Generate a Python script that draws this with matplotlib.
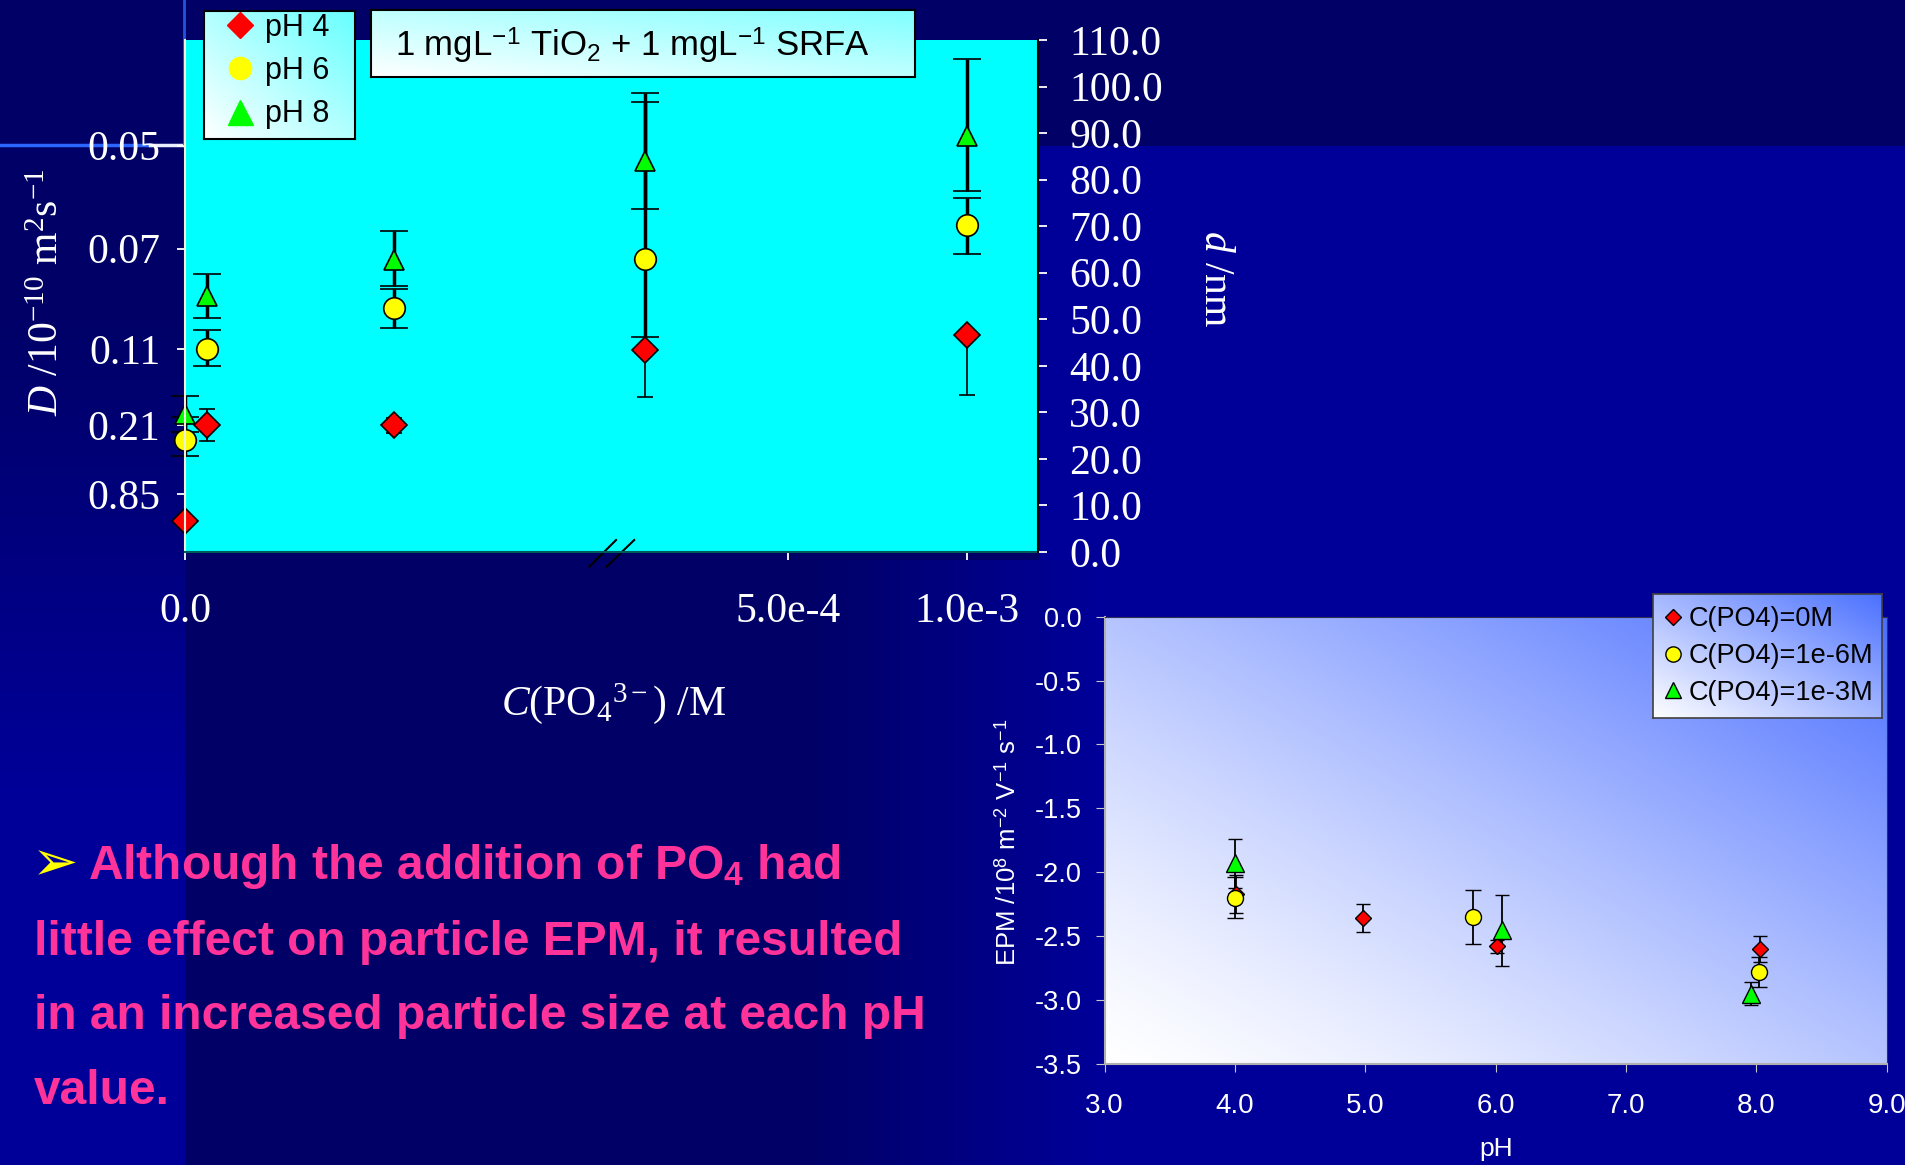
import numpy as np
import matplotlib
matplotlib.use('Agg')
import matplotlib.pyplot as plt
from matplotlib.lines import Line2D
from matplotlib.patches import Rectangle
from matplotlib.colors import to_rgb, LinearSegmentedColormap
from matplotlib.ticker import FormatStrFormatter

plt.rcParams.update({
    'font.family': ['Liberation Serif', 'DejaVu Serif'],
    'mathtext.fontset': 'custom',
    'mathtext.rm': 'Liberation Serif',
    'mathtext.it': 'Liberation Serif:italic',
    'mathtext.bf': 'Liberation Sans:bold',
    'mathtext.sf': 'Liberation Sans',
})

# ---------------- data: particle size vs phosphate ----------------
conc = [0.0, 1e-6, 1e-5, 1e-4, 1e-3]
series_top = ['pH 4', 'pH 6', 'pH 8']
d_ph4 = [6.6, 27.2, 27.2, 43.5, 46.6]
d_ph4_lo = [0.0, 3.45, 1.6, 10.3, 12.8]
d_ph4_hi = [0.0, 3.45, 1.6, 0.0, 0.0]
d_ph6 = [24.0, 43.7, 52.4, 63.0, 70.2]
d_ph6_lo = [3.4, 3.8, 4.2, 16.8, 6.2]
d_ph6_hi = [4.9, 4.0, 4.2, 33.6, 5.9]
d_ph8 = [29.7, 55.0, 62.8, 84.1, 89.4]
d_ph8_lo = [3.9, 4.8, 5.6, 10.5, 11.9]
d_ph8_hi = [3.9, 4.7, 6.1, 14.5, 16.5]
x_ticks = [0.0, 5e-4, 1e-3]
x_ticklabels = ['0.0', '5.0e-4', '1.0e-3']
D_tick_pos = [87.3, 65.2, 43.6, 27.2, 12.4]
D_ticklabels = ['0.05', '0.07', '0.11', '0.21', '0.85']
d_ticks = [0, 10, 20, 30, 40, 50, 60, 70, 80, 90, 100, 110]
# broken-axis knots (concentration -> relative position)
scale_c = [0.0, 1e-6, 1e-5, 1e-4, 1.2e-3]
scale_p = [0.0, 22.0, 208.7, 459.8, 853.0]

# ---------------- data: EPM vs pH ----------------
series_bot = ['C(PO4)=0M', 'C(PO4)=1e-6M', 'C(PO4)=1e-3M']
ph_0 = [4.01, 4.98, 6.01, 8.03]
epm_0 = [-2.17, -2.36, -2.58, -2.60]
epm_0_err = [0.15, 0.11, 0.05, 0.10]
ph_6 = [4.00, 5.83, 8.02]
epm_6 = [-2.20, -2.35, -2.78]
epm_6_err = [0.16, 0.21, 0.12]
ph_3 = [4.00, 6.045, 7.96]
epm_3 = [-1.93, -2.455, -2.95]
epm_3_err = [0.19, 0.28, 0.09]
ph_ticks = [3.0, 4.0, 5.0, 6.0, 7.0, 8.0, 9.0]
epm_ticks = [0.0, -0.5, -1.0, -1.5, -2.0, -2.5, -3.0, -3.5]

W, H = 1906, 1165
fig = plt.figure(figsize=(W / 100, H / 100), dpi=100)
fig.patch.set_facecolor('#000099')


def fx(px):
    return px / W


def fy(py):
    return 1 - py / H


def diag_gradient(a, c0, c1, power=1.0):
    xx, yy = np.meshgrid(np.linspace(0, 1, 256), np.linspace(0, 1, 256))
    t = ((xx + yy) / 2) ** power
    c0 = np.array(to_rgb(c0))
    c1 = np.array(to_rgb(c1))
    img = c0[None, None, :] * (1 - t[..., None]) + c1[None, None, :] * t[..., None]
    a.imshow(img, extent=[0, 1, 0, 1], transform=a.transAxes, origin='lower',
             aspect='auto', zorder=-5, interpolation='bilinear')


# ---------------- slide background ----------------
bg = fig.add_axes([0, 0, 1, 1], zorder=-10)
bg.axis('off')
cm_bg = LinearSegmentedColormap.from_list('bgc', ['#000066', '#000099'])
# whole-slide brightness map: 0 = navy, 1 = bright blue
Xg, Yg = np.meshgrid(np.arange(0, W, 2), np.arange(0, H, 2))
val = np.ones_like(Xg, dtype=float)
val[Yg < 146] = 0.0
centre = (Xg >= 185) & (Yg >= 146)
right_edge = np.where(Yg < 560, 1040.0, 1040.0)
centre_val = np.where(Yg < 560, (Xg >= 1040).astype(float),
                      np.clip((Xg - 800) / 300.0, 0, 1))
val[centre] = centre_val[centre]
left = (Xg < 185) & (Yg >= 146)
val[left] = np.clip((Yg[left] - 300) / 500.0, 0, 1)
bg.imshow(val, extent=(0, W, H, 0), origin='upper', cmap=cm_bg, aspect='auto',
          vmin=0, vmax=1, interpolation='nearest')
bg.plot([0, 150], [145, 145], color='#2a66ff', lw=2.5)
bg.plot([150, 185], [145, 145], color='#e8eeff', lw=2.5)
bg.plot([184, 184], [0, 146], color='#2255dd', lw=2)
bg.set_xlim(0, W)
bg.set_ylim(H, 0)

# ---------------- top chart ----------------
ax = fig.add_axes([fx(185), fy(552), (1038 - 185) / W, (552 - 40) / H])
ax.set_facecolor('#00FFFF')
fwd = lambda c: np.interp(c, scale_c, scale_p)
inv = lambda p: np.interp(p, scale_p, scale_c)
ax.set_xscale('function', functions=(fwd, inv))
ax.set_xlim(0, 1.2e-3)
ax.set_ylim(0, 110)

specs = [
    (d_ph4, d_ph4_lo, d_ph4_hi, 'D', 13.5, '#FF0000', 1.2, 6),
    (d_ph6, d_ph6_lo, d_ph6_hi, 'o', 15.5, '#FFFF00', 2.5, 10),
    (d_ph8, d_ph8_lo, d_ph8_hi, '^', 15.0, '#00FF00', 2.5, 10),
]
for (d, lo, hi, mk, ms, col, elw, cs), name in zip(specs, series_top):
    cont = ax.errorbar(conc, d, yerr=[lo, hi], fmt=mk, ms=ms, mfc=col, mec='black',
                       mew=1.2, ecolor='black', elinewidth=elw, capsize=cs,
                       capthick=elw, label=name)
    for art in cont.get_children():
        art.set_clip_on(False)

ax.set_xticks(x_ticks, labels=x_ticklabels, fontsize=30, color='white',
              fontfamily='Liberation Serif')
ax.xaxis.set_minor_locator(plt.NullLocator())
ax.set_yticks(D_tick_pos, labels=D_ticklabels, fontsize=30, color='white',
              fontfamily='Liberation Serif')
ax.tick_params(axis='x', colors='white', length=5.8, width=1.3, pad=23)
ax.tick_params(axis='y', colors='white', length=5.8, width=1.3, pad=12)
ax.spines['top'].set_visible(False)
ax.spines['right'].set_visible(False)
ax.spines['left'].set_color('#f0f0d8')
ax.spines['left'].set_linewidth(1.5)
ax.spines['bottom'].set_color('#005a5a')
ax.spines['bottom'].set_linewidth(1.5)

ax2 = ax.twinx()
ax2.set_ylim(0, 110)
ax2.set_yticks(d_ticks)
ax2.yaxis.set_major_formatter(FormatStrFormatter('%.1f'))
ax2.tick_params(axis='y', colors='white', length=6.5, width=1.3, pad=16, labelsize=30)
for s in ['top', 'left', 'bottom']:
    ax2.spines[s].set_visible(False)
ax2.spines['right'].set_color('black')
ax2.spines['right'].set_linewidth(1.5)

ax.set_ylabel(r'$\mathit{D}$ /10$^{-10}$ m$^{2}$s$^{-1}$', fontsize=30, color='white')
ax.yaxis.label.set_va('center')
ax.yaxis.set_label_coords(-0.1606, 0.508)
ax2.set_ylabel(r'$\mathit{d}$ /nm', fontsize=30, color='white', rotation=270)
ax2.yaxis.label.set_va('center')
ax2.yaxis.set_label_coords(1.2075, 0.533)
ax.set_xlabel(r'$\mathit{C}$(PO$_{4}$$^{3-}$) /M', fontsize=30, color='white')
ax.xaxis.label.set_va('center')
ax.xaxis.set_label_coords(0.502, -0.295)

# broken-axis marks
for x0, x1 in [(0.474, 0.5053), (0.4943, 0.5266)]:
    ax.plot([x0, x1], [-0.0287, 0.0234], transform=ax.transAxes, color='black',
            lw=1.5, clip_on=False)

# legend box (top)
lax = fig.add_axes([fx(204), fy(139), 151 / W, 128 / H])
diag_gradient(lax, '#ffffff', '#66ffff')
lax.set_xlim(0, 1); lax.set_ylim(0, 1)
lax.set_xticks([]); lax.set_yticks([])
for s in lax.spines.values():
    s.set_color('black'); s.set_linewidth(1.5)
h_top = [Line2D([], [], ls='none', marker='D', ms=13.5, mfc='#FF0000', mec='#FF0000'),
         Line2D([], [], ls='none', marker='o', ms=16, mfc='#FFFF00', mec='#FFFF00'),
         Line2D([], [], ls='none', marker='^', ms=18, mfc='#00FF00', mec='#00FF00')]
lax.legend(h_top, series_top, loc='center left', bbox_to_anchor=(0.139, 0.53),
           frameon=False, prop={'family': 'Liberation Sans', 'size': 22},
           handlelength=1.0, handletextpad=0.31, labelspacing=0.43,
           borderpad=0, borderaxespad=0)

# title box
tax = fig.add_axes([fx(371), fy(77), (915 - 371) / W, (77 - 10) / H])
diag_gradient(tax, '#ffffff', '#80ffff')
tax.set_xlim(0, 1); tax.set_ylim(0, 1)
tax.set_xticks([]); tax.set_yticks([])
for s in tax.spines.values():
    s.set_color('black'); s.set_linewidth(1.5)
fig.text(fx(633), fy(57), r'1 mgL$^{\mathsf{-1}}$ TiO$_{\mathsf{2}}$ + 1 mgL$^{\mathsf{-1}}$ SRFA',
         ha='center', va='baseline', fontsize=25, family='Liberation Sans', color='black')

# ---------------- bottom chart ----------------
ax3 = fig.add_axes([fx(1104.6), fy(1064), (1886.7 - 1104.6) / W, (1064 - 616.6) / H])
diag_gradient(ax3, '#ffffff', '#4a6eff', power=1.3)
bspecs = [
    (ph_0, epm_0, epm_0_err, 'D', 8.5, '#FF0000', 4.7),
    (ph_6, epm_6, epm_6_err, 'o', 11.5, '#FFFF00', 6),
    (ph_3, epm_3, epm_3_err, '^', 12.5, '#00FF00', 5),
]
for (px, py, pe, mk, ms, col, cs), name in zip(bspecs, series_bot):
    ax3.errorbar(px, py, yerr=pe, fmt=mk, ms=ms, mfc=col, mec='black', mew=1.0,
                 ecolor='black', elinewidth=1.3, capsize=cs, capthick=1.3, label=name)
ax3.set_xlim(3, 9)
ax3.set_ylim(-3.5, 0)
ax3.set_xticks(ph_ticks, labels=[f'{v:.1f}' for v in ph_ticks], fontsize=20,
               color='white', fontfamily='Liberation Sans')
ax3.set_yticks(epm_ticks, labels=[f'{v:.1f}' for v in epm_ticks], fontsize=19.5,
               color='white', fontfamily='Liberation Sans')
ax3.tick_params(axis='x', colors='#c8c8c8', labelcolor='white', length=5.8, pad=15)
ax3.tick_params(axis='y', colors='#c8c8c8', labelcolor='white', length=6.5, pad=10)
ax3.spines['left'].set_color('#b0b0b0'); ax3.spines['left'].set_linewidth(1.5)
ax3.spines['bottom'].set_color('#b0b0b0'); ax3.spines['bottom'].set_linewidth(1.5)
ax3.spines['top'].set_color('#303050')
ax3.spines['right'].set_color('#303050')
ax3.set_ylabel(r'EPM /10$^{\mathsf{8}}$ m$^{\mathsf{-2}}$ V$^{\mathsf{-1}}$ s$^{\mathsf{-1}}$',
               fontsize=18.5, color='white', family='Liberation Sans')
ax3.yaxis.label.set_va('center')
ax3.yaxis.set_label_coords(-0.1235, 0.496)
ax3.set_xlabel('pH', fontsize=19, color='white', family='Liberation Sans')
ax3.xaxis.label.set_va('center')
ax3.xaxis.set_label_coords(0.5, -0.19)

bax = fig.add_axes([fx(1653), fy(718), 229 / W, 124 / H])
diag_gradient(bax, '#ffffff', '#4a70ff')
bax.set_xlim(0, 1); bax.set_ylim(0, 1)
bax.set_xticks([]); bax.set_yticks([])
for s in bax.spines.values():
    s.set_color('#404040'); s.set_linewidth(1.2)
h_bot = [Line2D([], [], ls='none', marker='D', ms=8.5, mfc='#FF0000', mec='black'),
         Line2D([], [], ls='none', marker='o', ms=11, mfc='#FFFF00', mec='black'),
         Line2D([], [], ls='none', marker='^', ms=12, mfc='#00FF00', mec='black')]
bax.legend(h_bot, series_bot, loc='center left', bbox_to_anchor=(0.045, 0.5),
           frameon=False, prop={'family': 'Liberation Sans', 'size': 19.5},
           handlelength=0.75, handletextpad=0.2, labelspacing=0.4,
           borderpad=0, borderaxespad=0)

# ---------------- bullet text ----------------
pink = '#FF3399'
fig.text(fx(32), fy(880), '\u27a2', fontsize=40, color='#FFFF00',
         family='DejaVu Sans', va='baseline')
lines = [(87.5, 879, r'Although the addition of PO$_{\mathbf{4}}$ had'),
         (34, 955, 'little effect on particle EPM, it resulted'),
         (34, 1029, 'in an increased particle size at each pH'),
         (34, 1104, 'value.')]
for x, yb, s in lines:
    fig.text(fx(x), fy(yb), s, fontsize=34.5, fontweight='bold', family='Liberation Sans',
             color=pink, va='baseline')

fig.savefig('out.png', dpi=100, facecolor=fig.get_facecolor())
